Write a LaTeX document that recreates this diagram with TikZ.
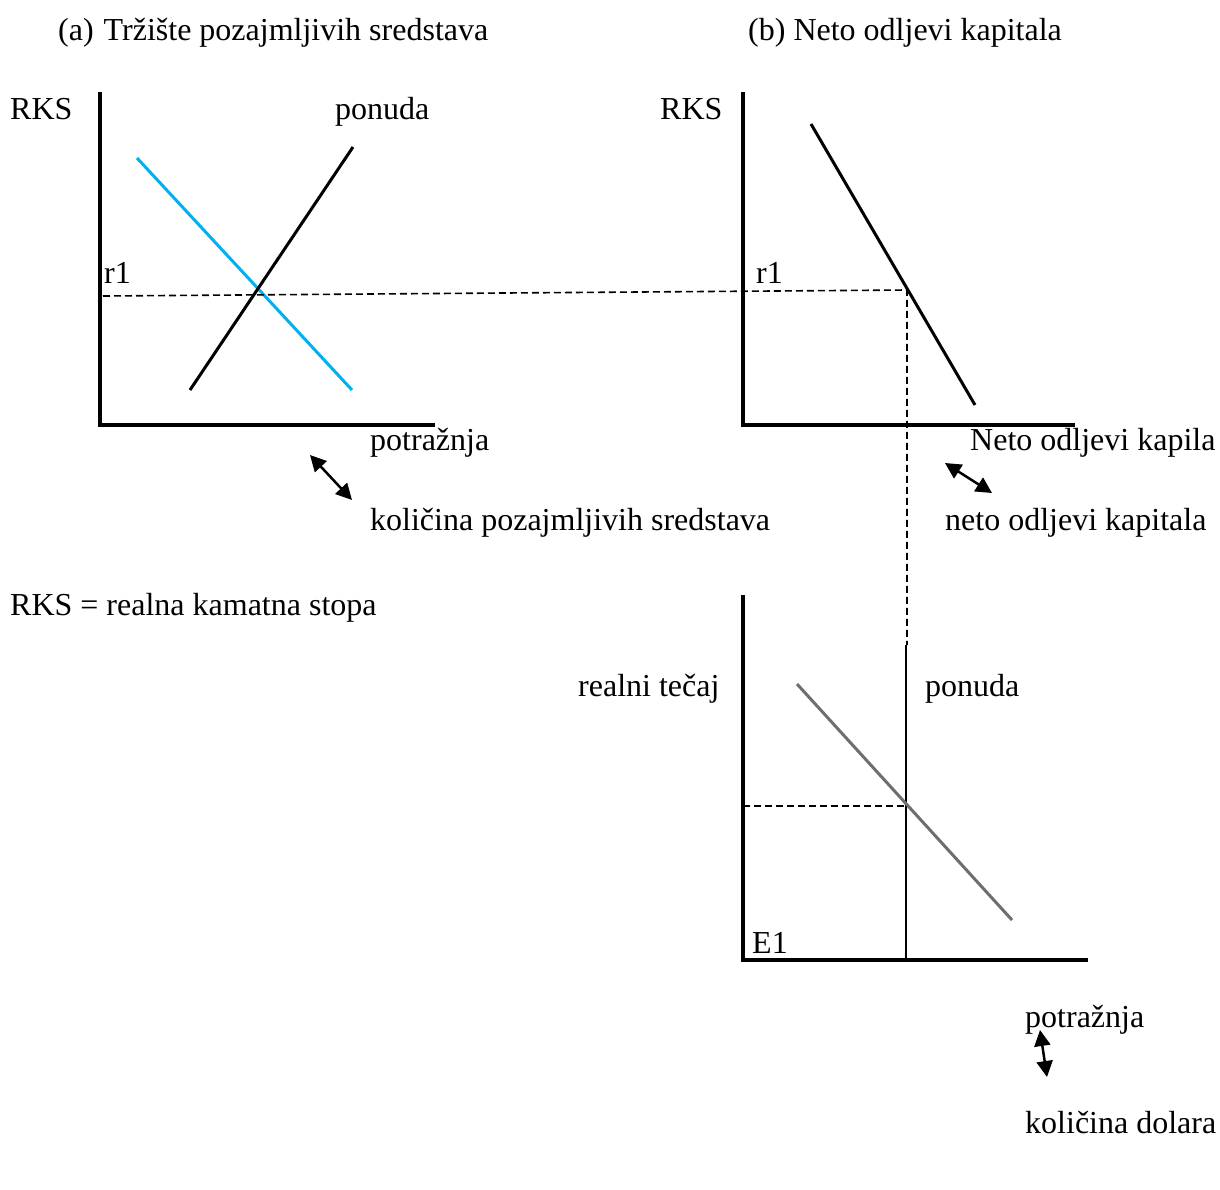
\documentclass[tikz,border=0pt]{standalone}
\usepackage{fontspec}
\setmainfont{Liberation Serif}
\definecolor{DemandBlue}{HTML}{00B0F0}
\definecolor{DemandGray}{HTML}{6E6E6E}
\usetikzlibrary{arrows.meta, positioning}

\begin{document}
\begin{tikzpicture}[x=1pt, y=-1pt,
  axis/.style={line width=4pt},
  curve/.style={line width=3pt},
  guide/.style={line width=1.6pt, dash pattern=on 7pt off 4pt},
  txt/.style={font=\fontsize{32}{36}\selectfont, anchor=base west, inner sep=0pt},
  dbl/.style={{Triangle[length=16pt,width=16pt]}-{Triangle[length=16pt,width=16pt]}, line width=2.5pt},
]
\useasboundingbox (0,0) rectangle (1220,1189);

% titles
\node[txt] (titleA) at (58,40) {(a)\hspace{10pt}Tržište pozajmljivih sredstava};
\node[txt] (titleB) at (748,40) {(b) Neto odljevi kapitala};

% axes: top, corner, right end
\foreach \n/\x/\ytop/\ybot/\xend in {a/100/92/425/435, b/743/92/425/1075, c/743/595/960/1088} {
  \coordinate (\n top) at (\x,\ytop);
  \coordinate (\n corner) at (\x,\ybot);
  \coordinate (\n end) at (\xend,\ybot);
  \draw[axis] (\n top) -- (\n corner) -- (\n end);
}

% (a) market for loanable funds
\coordinate (dA1) at (137,158);
\coordinate (dA2) at (352,390);
\coordinate (sA1) at (190,390);
\coordinate (sA2) at (353,147);
\draw[curve, DemandBlue] (dA1) -- (dA2);
\draw[curve] (sA1) -- (sA2);
\node[txt] (rksA) at (10,119) {RKS};
\node[txt] (ponudaA) at (335,119) {ponuda};
\node[txt] (r1A) at (104,283) {r1};
\node[txt] (potraznjaA) at (370,450) {potražnja};
\node[txt] (kolicinaA) at (370,530) {količina pozajmljivih sredstava};
\coordinate (arA1) at (310,455);
\coordinate (arA2) at (352,500);
\draw[dbl] (arA1) -- (arA2);
\node[txt] (legend) at (10,615) {RKS = realna kamatna stopa};

% (b) net capital outflow
\coordinate (nB1) at (811,124);
\coordinate (nB2) at (975,405);
\draw[curve] (nB1) -- (nB2);
\node[txt] (rksB) at (660,119) {RKS};
\node[txt] (r1B) at (756,283) {r1};
\node[txt] (netoB) at (970,450) {Neto odljevi kapila};
\node[txt] (netoB2) at (945,530) {neto odljevi kapitala};
\coordinate (arB1) at (945,463);
\coordinate (arB2) at (992,493);
\draw[dbl] (arB1) -- (arB2);

% interest rate guide
\coordinate (rStart) at (103,296);
\coordinate (rEnd) at (907,290);
\coordinate (rDown) at (907,645);
\draw[guide] (rStart) -- (rEnd) -- (rDown);

% (c) foreign exchange market
\coordinate (sC1) at (906,645);
\coordinate (sC2) at (906,960);
\coordinate (dC1) at (797,684);
\coordinate (dC2) at (1012,920);
\draw[line width=2.5pt] (sC1) -- (sC2);
\draw[curve, DemandGray] (dC1) -- (dC2);
\coordinate (eStart) at (743,806);
\coordinate (eEnd) at (906,806);
\draw[guide] (eStart) -- (eEnd);
\node[txt] (tecaj) at (578,696) {realni tečaj};
\node[txt] (ponudaC) at (925,696) {ponuda};
\node[txt] (e1) at (752,953) {E1};
\node[txt] (potraznjaC) at (1025,1027) {potražnja};
\node[txt] (kolicinaC) at (1025,1133) {količina dolara};
\coordinate (arC1) at (1040,1030);
\coordinate (arC2) at (1047,1077);
\draw[dbl] (arC1) -- (arC2);
\end{tikzpicture}
\end{document}
